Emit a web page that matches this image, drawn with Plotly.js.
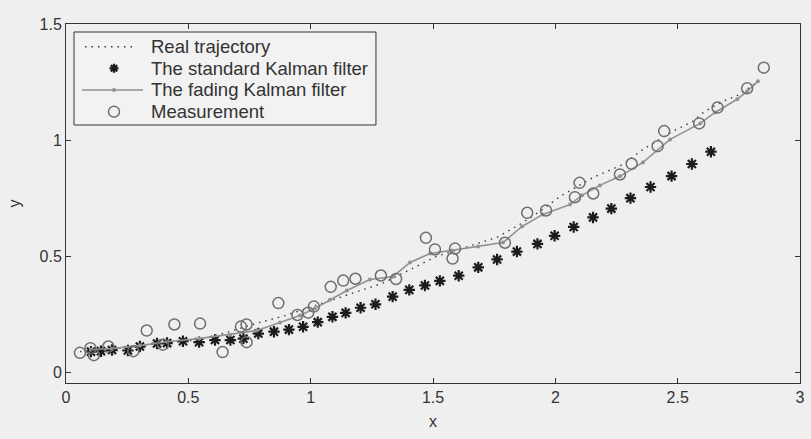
<!DOCTYPE html>
<html>
<head>
<meta charset="utf-8">
<script src="https://cdn.plot.ly/plotly-3.0.1.min.js"></script>
<style>
  html, body { margin: 0; padding: 0; background: #efefef; }
  #chart { width: 811px; height: 439px; }
</style>
</head>
<body>
<div id="chart"></div>
<script>
// Real trajectory
const realX = [0.057, 0.180, 0.302, 0.425, 0.548, 0.654, 0.785, 0.895, 0.997, 1.091, 1.214, 1.295, 1.365, 1.459, 1.516, 1.631, 1.761, 1.855, 1.937, 2.019, 2.154, 2.276, 2.358, 2.481, 2.562, 2.611, 2.685, 2.755, 2.828];
const realY = [0.089, 0.098, 0.115, 0.128, 0.141, 0.171, 0.213, 0.244, 0.279, 0.313, 0.356, 0.384, 0.421, 0.471, 0.500, 0.538, 0.581, 0.637, 0.693, 0.757, 0.839, 0.895, 0.960, 1.038, 1.081, 1.124, 1.167, 1.197, 1.253];

// The standard Kalman filter
const kfX = [0.102, 0.143, 0.188, 0.253, 0.302, 0.372, 0.413, 0.478, 0.544, 0.609, 0.672, 0.725, 0.786, 0.850, 0.911, 0.969, 1.029, 1.089, 1.143, 1.204, 1.265, 1.335, 1.403, 1.467, 1.528, 1.605, 1.685, 1.762, 1.843, 1.927, 1.997, 2.075, 2.154, 2.229, 2.307, 2.389, 2.475, 2.558, 2.636];
const kfY = [0.089, 0.091, 0.096, 0.094, 0.111, 0.124, 0.126, 0.134, 0.130, 0.139, 0.139, 0.145, 0.167, 0.175, 0.184, 0.196, 0.216, 0.239, 0.256, 0.278, 0.293, 0.326, 0.355, 0.374, 0.394, 0.416, 0.452, 0.486, 0.520, 0.553, 0.588, 0.626, 0.667, 0.705, 0.750, 0.798, 0.845, 0.897, 0.950];

// The fading Kalman filter
const fkfX = [0.102, 0.188, 0.302, 0.413, 0.544, 0.670, 0.780, 0.875, 0.956, 1.017, 1.079, 1.148, 1.242, 1.336, 1.406, 1.488, 1.577, 1.684, 1.786, 1.864, 1.949, 2.060, 2.109, 2.182, 2.264, 2.358, 2.469, 2.592, 2.653, 2.743, 2.784, 2.828];
const fkfY = [0.098, 0.102, 0.115, 0.132, 0.145, 0.162, 0.180, 0.215, 0.245, 0.275, 0.313, 0.352, 0.400, 0.412, 0.473, 0.512, 0.525, 0.542, 0.559, 0.628, 0.680, 0.723, 0.762, 0.805, 0.844, 0.904, 1.003, 1.072, 1.119, 1.176, 1.210, 1.253];

// Measurement
const measX = [0.057, 0.100, 0.114, 0.173, 0.275, 0.330, 0.396, 0.443, 0.548, 0.640, 0.715, 0.738, 0.738, 0.868, 0.946, 0.990, 1.013, 1.082, 1.133, 1.183, 1.287, 1.349, 1.471, 1.508, 1.580, 1.590, 1.794, 1.885, 1.962, 2.080, 2.099, 2.155, 2.264, 2.312, 2.418, 2.445, 2.588, 2.663, 2.784, 2.852];
const measY = [0.084, 0.104, 0.074, 0.111, 0.091, 0.180, 0.119, 0.206, 0.210, 0.087, 0.197, 0.206, 0.130, 0.298, 0.247, 0.257, 0.283, 0.368, 0.395, 0.403, 0.417, 0.402, 0.579, 0.529, 0.490, 0.533, 0.558, 0.687, 0.697, 0.754, 0.816, 0.770, 0.852, 0.898, 0.974, 1.039, 1.072, 1.140, 1.223, 1.312];

const seriesNames = ['Real trajectory', 'The standard Kalman filter', 'The fading Kalman filter', 'Measurement'];

const xTicks = [0, 0.5, 1, 1.5, 2, 2.5, 3];
const xTickText = ['0', '0.5', '1', '1.5', '2', '2.5', '3'];
const yTicks = [0, 0.5, 1, 1.5];
const yTickText = ['0', '0.5', '1', '1.5'];

const FONT = 'Liberation Sans, Arial, Helvetica, sans-serif';
const C_REAL = '#3a3a3a', C_KF = '#1c1c1c', C_FKF = '#929292', C_MEAS = '#6e6e6e';

const traces = [
  {
    x: realX, y: realY, name: seriesNames[0], type: 'scatter', mode: 'lines',
    line: { color: C_REAL, width: 1.4, dash: '1.5px,5px' }
  },
  {
    x: kfX, y: kfY, name: seriesNames[1], type: 'scatter', mode: 'markers',
    marker: { symbol: 'asterisk-open', size: 9.5, color: C_KF, line: { width: 2.2, color: C_KF } }
  },
  {
    x: fkfX, y: fkfY, name: seriesNames[2], type: 'scatter', mode: 'lines+markers',
    line: { color: C_FKF, width: 1.6 },
    marker: { symbol: 'circle', size: 4, color: C_FKF }
  },
  {
    x: measX, y: measY, name: seriesNames[3], type: 'scatter', mode: 'markers',
    marker: { symbol: 'circle-open', size: 11, color: C_MEAS, line: { width: 1.5, color: C_MEAS } }
  }
];

// Legend drawn as a boxed key (paper coordinates)
const LG = { x0: 0.0109, x1: 0.4223, y0: 0.7187, y1: 0.9777, textX: 0.1131, sx0: 0.0218, sx1: 0.1049, mx: 0.0654 };
const rowY = [0.9368, 0.8766, 0.8162, 0.7557];

const shapes = [
  { type: 'rect', xref: 'paper', yref: 'paper', x0: LG.x0, x1: LG.x1, y0: LG.y0, y1: LG.y1,
    line: { color: '#333', width: 1 }, fillcolor: '#f2f2f2', layer: 'above' },
  { type: 'line', xref: 'paper', yref: 'paper', x0: 0.0259, x1: 0.0967, y0: rowY[0], y1: rowY[0],
    line: { color: C_REAL, width: 1.4, dash: '1.5px,5px' }, layer: 'above' },
  { type: 'path', xref: 'paper', yref: 'paper', xsizemode: 'pixel', ysizemode: 'pixel',
    xanchor: LG.mx, yanchor: rowY[1],
    path: 'M-4.5,0H4.5M0,-4.5V4.5M-3.2,-3.2L3.2,3.2M-3.2,3.2L3.2,-3.2',
    line: { color: C_KF, width: 2.2 }, layer: 'above' },
  { type: 'line', xref: 'paper', yref: 'paper', x0: LG.sx0, x1: LG.sx1, y0: rowY[2], y1: rowY[2],
    line: { color: C_FKF, width: 1.6 }, layer: 'above' },
  { type: 'circle', xref: 'paper', yref: 'paper', xsizemode: 'pixel', ysizemode: 'pixel',
    xanchor: LG.mx, yanchor: rowY[2], x0: -2, x1: 2, y0: -2, y1: 2,
    line: { color: C_FKF, width: 0 }, fillcolor: C_FKF, layer: 'above' },
  { type: 'circle', xref: 'paper', yref: 'paper', xsizemode: 'pixel', ysizemode: 'pixel',
    xanchor: LG.mx, yanchor: rowY[3], x0: -5.5, x1: 5.5, y0: -5.5, y1: 5.5,
    line: { color: C_MEAS, width: 1.5 }, layer: 'above' }
];

const annotations = seriesNames.map((name, i) => ({
  xref: 'paper', yref: 'paper', x: LG.textX, y: rowY[i], xanchor: 'left', yanchor: 'middle',
  text: name, showarrow: false, font: { family: FONT, size: 18.5, color: '#333' }
}));

const axisCommon = {
  showgrid: false, zeroline: false,
  showline: true, linecolor: '#333', linewidth: 1, mirror: 'allticks',
  ticks: 'inside', ticklen: 5, tickcolor: '#333', tickwidth: 1,
  tickfont: { family: FONT, size: 16, color: '#333' }
};

const layout = {
  width: 811, height: 439,
  margin: { l: 66, r: 11, t: 24, b: 56 },
  paper_bgcolor: '#efefef',
  plot_bgcolor: '#efefef',
  showlegend: false,
  shapes: shapes,
  annotations: annotations,
  xaxis: Object.assign({}, axisCommon, {
    range: [0, 3], tickvals: xTicks, ticktext: xTickText,
    title: { text: 'x', font: { family: FONT, size: 16, color: '#333' }, standoff: 10 }
  }),
  yaxis: Object.assign({}, axisCommon, {
    range: [-0.046, 1.5], tickvals: yTicks, ticktext: yTickText,
    title: { text: 'y', font: { family: FONT, size: 16, color: '#333' }, standoff: 14 }
  })
};

Plotly.newPlot('chart', traces, layout, { displayModeBar: false, staticPlot: true });
</script>
</body>
</html>
